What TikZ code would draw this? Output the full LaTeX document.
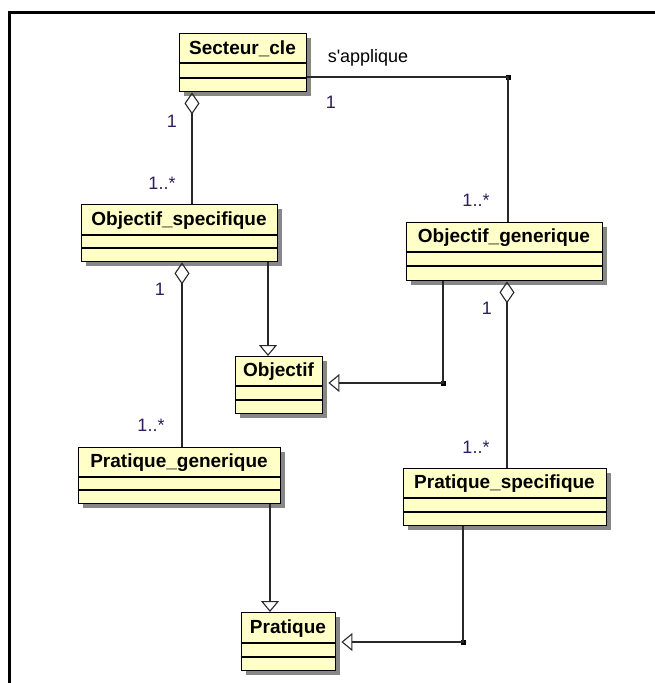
\documentclass[tikz,border=0pt]{standalone}
\usepackage{fontspec}
\setmainfont{Liberation Sans}
\usetikzlibrary{arrows.meta}
\definecolor{clsfill}{RGB}{255,255,200}
\definecolor{shadowc}{RGB}{135,135,135}
\definecolor{multc}{RGB}{45,30,95}
\definecolor{linec}{RGB}{40,40,40}
\tikzset{
  clsbox/.style={draw=black, line width=1.4pt, fill=clsfill, inner sep=0pt},
  clsdiv/.style={draw=black, line width=1.2pt},
  clstitle/.style={font=\fontsize{19}{22}\selectfont\bfseries, text=black, inner sep=0pt},
  mult/.style={font=\fontsize{18}{21}\selectfont, text=multc, inner sep=0pt},
  conn/.style={draw=linec, line width=1.2pt},
  agg/.style={conn, {Diamond[open, length=22pt, width=15pt, line width=1.1pt]}-},
  gen/.style={conn, -{Triangle[open, length=11pt, width=18pt, line width=1.1pt]}},
  junc/.style={fill=black, minimum size=5pt, inner sep=0pt, draw=none, rectangle},
}
\newcommand{\umlbox}[8]{%
  \fill[shadowc] ({#2+5},{-#3-5}) rectangle ({#4+5},{-#7-5});
  \node[clsbox, anchor=north west, minimum width={(#4-#2)*1pt}, minimum height={(#7-#3)*1pt}] (#1) at (#2,-#3) {};
  \draw[clsdiv] (#2,-#5) -- (#4,-#5);
  \draw[clsdiv] (#2,-#6) -- (#4,-#6);
  \node[clstitle] (#1-t) at ({(#2+#4)/2},{-(#3+#5)/2-1}) {#8};
}
\begin{document}
\begin{tikzpicture}[x=1pt,y=1pt]
\useasboundingbox (0,0) rectangle (655,-683);
\fill[white] (0,0) rectangle (655,-683);
% frame
\draw[black, line width=2.2pt] (9.5,-683) -- (9.5,-12.5) -- (655,-12.5);

% classes
\umlbox{sc}{179}{33}{306}{63}{78}{91}{Secteur\_cle}
\umlbox{os}{81}{204}{277}{235}{248}{261}{Objectif\_specifique}
\umlbox{og}{406}{222}{602}{252}{266}{280}{Objectif\_generique}
\umlbox{ob}{235}{356}{322}{386}{400}{413}{Objectif}
\umlbox{pg}{78}{447}{280}{477}{490}{503}{Pratique\_generique}
\umlbox{ps}{403}{468}{606}{498}{512}{525}{Pratique\_specifique}
\umlbox{pr}{241}{612}{335}{643}{657}{670}{Pratique}

% junctions
\node[junc] (j1) at (508,-77) {};
\node[junc] (j2) at (443,-383) {};
\node[junc] (j3) at (463,-642) {};
\coordinate (a1) at (192,0);
\coordinate (a2) at (182,0);
\coordinate (a3) at (268,0);
\coordinate (a4) at (507,0);
\coordinate (a5) at (270,0);

% connectors
\draw[agg] (sc.south -| a1) -- (os.north -| a1);
\draw[conn] (sc.east |- j1) -- (j1.center) -- (og.north -| j1);
\draw[agg] (os.south -| a2) -- (pg.north -| a2);
\draw[gen] (os.south -| a3) -- (ob.north -| a3);
\draw[gen] (og.south -| j2) -- (j2.center) -- ([xshift=5pt]ob.east |- j2);
\draw[agg] (og.south -| a4) -- (ps.north -| a4);
\draw[gen] (pg.south -| a5) -- (pr.north -| a5);
\draw[gen] (ps.south -| j3) -- (j3.center) -- ([xshift=5pt]pr.east |- j3);

% labels
\node[mult, text=black] (l0) at (368,-58) {s\textquotesingle applique};
\node[mult] (l1) at (331,-102) {1};
\node[mult] (l2) at (172,-121) {1};
\node[mult] (l3) at (162,-183) {1..*};
\node[mult] (l4) at (476,-200) {1..*};
\node[mult] (l5) at (160,-289) {1};
\node[mult] (l6) at (487,-308) {1};
\node[mult] (l7) at (151,-425) {1..*};
\node[mult] (l8) at (476,-447) {1..*};
\end{tikzpicture}
\end{document}
